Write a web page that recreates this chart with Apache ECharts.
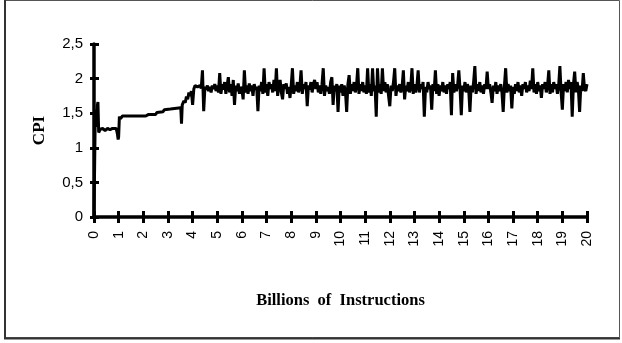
<!DOCTYPE html>
<html>
<head>
<meta charset="utf-8">
<script src="https://cdn.jsdelivr.net/npm/echarts@6/dist/echarts.min.js"></script>
<style>
html,body{margin:0;padding:0;background:#fff;}
#chart{width:622px;height:343px;}
</style>
</head>
<body>
<div id="chart"></div>
<script>
// Billions of instructions: start-up phase sample positions
var xsStart = [0,0.05,0.08,0.1,0.13,0.16,0.19,0.25,0.35,0.45,0.55,0.65,0.75,0.9,0.95,0.98,1.0,1.03,1.08,1.15,1.4,1.8,2.1,2.2,2.5,2.55,2.8,2.85,3.1,3.15,3.52,3.55,3.58,3.65,3.7,3.75,3.8,3.85,3.9,3.95,4.0,4.05,4.1,4.2,4.3,4.35];
// CPI in the start-up phase
var cpiStart = [0,1.45,1.55,1.3,1.6,1.66,1.22,1.27,1.28,1.25,1.28,1.26,1.28,1.28,1.2,1.12,1.16,1.45,1.42,1.46,1.46,1.46,1.46,1.48,1.48,1.51,1.52,1.55,1.56,1.58,1.58,1.35,1.62,1.68,1.65,1.74,1.7,1.8,1.75,1.82,1.62,1.85,1.9,1.88,1.9,1.86];
// Billions of instructions: steady phase sample positions
var xsSteady = [4.4,4.45,4.5,4.55,4.6,4.65,4.7,4.75,4.8,4.85,4.9,4.95,
5,5.05,5.1,5.15,5.2,5.25,5.3,5.35,5.4,5.45,5.5,5.55,5.6,5.65,5.7,5.75,5.8,5.85,5.9,5.95,
6,6.05,6.1,6.15,6.2,6.25,6.3,6.35,6.4,6.45,6.5,6.55,6.6,6.65,6.7,6.75,6.8,6.85,6.9,6.95,
7,7.05,7.1,7.15,7.2,7.25,7.3,7.35,7.4,7.45,7.5,7.55,7.6,7.65,7.7,7.75,7.8,7.85,7.9,7.95,
8,8.05,8.1,8.15,8.2,8.25,8.3,8.35,8.4,8.45,8.5,8.55,8.6,8.65,8.7,8.75,8.8,8.85,8.9,8.95,
9,9.05,9.1,9.15,9.2,9.25,9.3,9.35,9.4,9.45,9.5,9.55,9.6,9.65,9.7,9.75,9.8,9.85,9.9,9.95,
10,10.05,10.1,10.15,10.2,10.25,10.3,10.35,10.4,10.45,10.5,10.55,10.6,10.65,10.7,10.75,10.8,10.85,10.9,10.95,
11,11.05,11.1,11.15,11.2,11.25,11.3,11.35,11.4,11.45,11.5,11.55,11.6,11.65,11.7,11.75,11.8,11.85,11.9,11.95,
12,12.05,12.1,12.15,12.2,12.25,12.3,12.35,12.4,12.45,12.5,12.55,12.6,12.65,12.7,12.75,12.8,12.85,12.9,12.95,
13,13.05,13.1,13.15,13.2,13.25,13.3,13.35,13.4,13.45,13.5,13.55,13.6,13.65,13.7,13.75,13.8,13.85,13.9,13.95,
14,14.05,14.1,14.15,14.2,14.25,14.3,14.35,14.4,14.45,14.5,14.55,14.6,14.65,14.7,14.75,14.8,14.85,14.9,14.95,
15,15.05,15.1,15.15,15.2,15.25,15.3,15.35,15.4,15.45,15.5,15.55,15.6,15.65,15.7,15.75,15.8,15.85,15.9,15.95,
16,16.05,16.1,16.15,16.2,16.25,16.3,16.35,16.4,16.45,16.5,16.55,16.6,16.65,16.7,16.75,16.8,16.85,16.9,16.95,
17,17.05,17.1,17.15,17.2,17.25,17.3,17.35,17.4,17.45,17.5,17.55,17.6,17.65,17.7,17.75,17.8,17.85,17.9,17.95,
18,18.05,18.1,18.15,18.2,18.25,18.3,18.35,18.4,18.45,18.5,18.55,18.6,18.65,18.7,18.75,18.8,18.85,18.9,18.95,
19,19.05,19.1,19.15,19.2,19.25,19.3,19.35,19.4,19.45,19.5,19.55,19.6,19.65,19.7,19.75,19.8,19.85,19.9,19.95,
20];
// CPI in the steady phase
var cpiSteady = [2.12,1.53,1.88,1.84,1.9,1.82,1.88,1.8,1.9,1.85,1.92,1.82,
1.9,1.8,2.08,1.78,1.92,1.84,1.95,1.78,1.9,2.02,1.8,1.92,1.75,1.98,1.62,1.9,1.82,1.93,1.78,1.88,
1.85,1.7,2.12,1.8,1.9,1.78,1.93,1.82,1.9,1.75,1.92,1.84,1.88,1.53,1.9,1.82,1.95,1.78,2.15,1.8,
1.92,1.75,1.95,1.85,1.92,1.8,1.98,1.82,2.15,1.75,1.9,1.98,1.8,1.7,1.92,1.85,1.93,1.78,1.88,1.72,
1.9,2.15,1.78,1.9,1.82,1.95,1.8,1.88,2.12,1.78,1.92,1.85,1.95,1.6,1.9,1.84,1.95,1.8,1.92,1.98,
1.85,1.95,1.8,1.9,1.78,1.92,2.15,1.75,1.9,1.82,1.88,1.78,1.95,2.02,1.62,1.9,1.82,1.92,1.52,1.9,
1.8,1.92,1.75,1.9,1.82,1.52,1.92,2.05,1.78,1.92,1.82,1.95,1.8,1.9,2.15,1.78,1.92,1.82,1.95,1.8,
1.9,1.78,2.15,1.8,1.92,1.75,2.15,1.82,1.9,1.45,2.15,1.8,1.92,1.78,2.15,1.82,1.95,1.8,1.92,1.75,
1.6,1.9,1.82,1.95,2.15,1.75,1.9,1.82,1.92,1.8,1.88,2.12,1.7,1.9,1.82,1.95,1.8,1.88,2.15,1.78,
1.92,1.8,1.9,2.12,1.8,1.92,1.85,1.95,1.45,1.88,1.8,1.95,1.85,1.9,1.55,1.92,1.82,2.12,1.78,1.92,
1.75,1.9,1.82,1.95,1.8,1.9,1.78,1.92,1.85,1.95,1.47,2.08,1.8,1.92,1.82,1.9,2.12,1.85,1.47,1.9,
1.82,1.95,1.8,1.92,1.85,1.52,1.9,1.8,1.95,2.18,1.78,1.92,1.82,1.95,1.8,1.9,1.78,1.92,1.85,2.1,
1.85,1.92,1.8,1.65,1.9,1.82,1.95,1.78,1.9,1.82,1.92,1.8,1.52,1.9,2.15,1.8,1.92,1.82,1.9,1.57,
1.88,1.78,1.92,1.82,1.95,1.8,1.9,1.75,1.92,1.85,1.95,1.8,1.9,1.82,1.97,1.85,2.15,1.8,1.92,1.78,
1.95,1.82,1.9,1.72,1.92,1.85,1.95,1.8,1.9,2.12,1.78,1.92,1.8,1.95,1.85,1.92,1.78,1.9,2.18,1.8,
1.55,1.92,1.82,1.95,1.8,1.98,1.85,1.95,1.45,1.92,2.1,1.8,1.95,1.85,1.52,1.9,1.82,2.08,1.85,1.82,
1.92];

var xTitle = 'Billions  of  Instructions';
var yTitle = 'CPI';

var xs = xsStart.concat(xsSteady);
var cpi = cpiStart.concat(cpiSteady);
var data = xs.map(function(x, i){ return [x, cpi[i]]; });

var chart = echarts.init(document.getElementById('chart'));
var axisLine = {show:true, onZero:false, lineStyle:{color:'#000', width:3.5}};
chart.setOption({
  animation:false,
  backgroundColor:'#fff',
  graphic:[
    {type:'rect', shape:{x:5, y:0.5, width:614.5, height:337}, style:{fill:'none', stroke:'#555', lineWidth:1}},
    {type:'line', shape:{x1:5, y1:0, x2:5, y2:339}, style:{stroke:'#333', lineWidth:2}},
    {type:'line', shape:{x1:4, y1:338.5, x2:620, y2:338.5}, style:{stroke:'#333', lineWidth:2}}
  ],
  grid:{left:94, right:35, top:44, bottom:126, containLabel:false},
  xAxis:[{
    type:'value', min:0, max:20, interval:1,
    name:xTitle, nameLocation:'middle', nameGap:75,
    nameTextStyle:{fontFamily:'Liberation Serif', fontWeight:'bold', fontSize:16.5, color:'#000'},
    axisLine:axisLine,
    axisTick:{show:true, inside:false, length:6, lineStyle:{color:'#000', width:3}},
    axisLabel:{rotate:90, margin:14, fontFamily:'Liberation Sans', fontSize:14, color:'#000'},
    splitLine:{show:false}
  },{
    type:'value', min:0, max:20, interval:1, position:'bottom', offset:0,
    axisLine:{show:false, onZero:false},
    axisTick:{show:true, inside:true, length:6, lineStyle:{color:'#000', width:3}},
    axisLabel:{show:false}, splitLine:{show:false}
  }],
  yAxis:[{
    type:'value', min:0, max:2.5, interval:0.5,
    name:yTitle, nameLocation:'middle', nameGap:46, nameRotate:90,
    nameTextStyle:{fontFamily:'Liberation Serif', fontWeight:'bold', fontSize:17, color:'#000'},
    axisLine:axisLine,
    axisTick:{show:true, inside:false, length:4, lineStyle:{color:'#000', width:3}},
    axisLabel:{margin:11, fontFamily:'Liberation Sans', fontSize:15, color:'#000',
      formatter:function(v){ return String(v).replace('.', ','); }},
    splitLine:{show:false}
  },{
    type:'value', min:0, max:2.5, interval:0.5, position:'left', offset:0,
    axisLine:{show:false, onZero:false},
    axisTick:{show:true, inside:true, length:5, lineStyle:{color:'#000', width:3}},
    axisLabel:{show:false}, splitLine:{show:false}
  }],
  series:[{
    type:'line', data:data, xAxisIndex:0, yAxisIndex:0,
    showSymbol:false, symbol:'none',
    lineStyle:{color:'#000', width:3}
  }]
});
</script>
</body>
</html>
